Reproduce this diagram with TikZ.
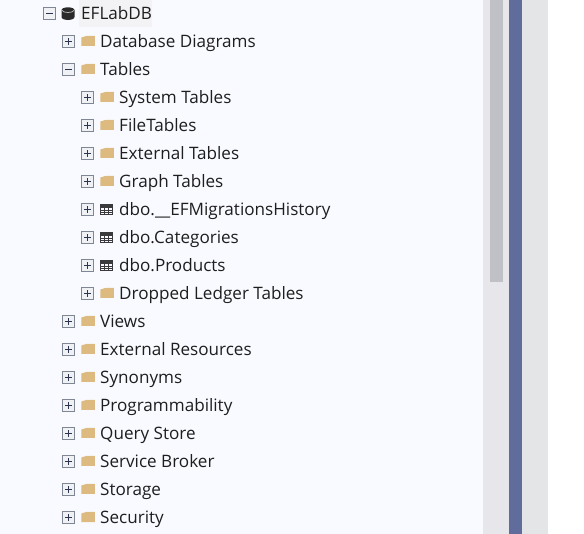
\documentclass[tikz,border=0pt]{standalone}
\usepackage{fontspec}
\setmainfont{Open Sans}
\definecolor{panelbg}{HTML}{F9FAFF}
\definecolor{trackbg}{HTML}{E6E6EB}
\definecolor{thumb}{HTML}{C0C1C6}
\definecolor{barblue}{HTML}{5F6C9C}
\definecolor{sidebg}{HTML}{E3E5E6}
\definecolor{folder}{HTML}{DDBB80}
\definecolor{boxline}{HTML}{7F8794}
\definecolor{boxfill}{HTML}{F0F1F5}
\definecolor{glyph}{HTML}{2B3550}
\definecolor{selbg}{HTML}{F3F3F5}
\definecolor{ink}{HTML}{1E1E1E}
\definecolor{dark}{HTML}{3A3A3C}
\tikzset{
  x=1pt,y=-1pt,
  label text/.style={anchor=base west,inner sep=0pt,text=ink,font=\fontsize{17.1}{20}\selectfont},
  plusbox/.pic={
    \draw[boxline,fill=boxfill,line width=1pt] (-6,-5.3) rectangle (6,6.7);
    \draw[glyph,line width=1pt] (-3.5,0.7) -- (3.5,0.7) (0,-2.8) -- (0,4.2);
  },
  minusbox/.pic={
    \draw[boxline,fill=boxfill,line width=1pt] (-6,-5.3) rectangle (6,6.7);
    \draw[glyph,line width=1pt] (-3.5,0.7) -- (3.5,0.7);
  },
  foldericon/.pic={
    \fill[folder] (0.3,-3.5) -- (6,-5.2) -- (13.8,-5.2) -- (13.8,5) -- (0.3,5) -- cycle;
  },
  tableicon/.pic={
    \draw[dark,line width=1pt] (0.5,-4) rectangle (12.5,6);
    \fill[dark] (0.5,-4) rectangle (12.5,-1);
    \draw[dark,line width=1pt] (0.5,1.3) -- (12.5,1.3) (0.5,3.7) -- (12.5,3.7) (4.5,-1) -- (4.5,6) (8.5,-1) -- (8.5,6);
  },
  dbicon/.pic={
    \fill[dark!70!black] (0,-2.8) .. controls (0,-6.6) and (13,-6.6) .. (13,-2.8) -- (13,4) .. controls (13,7.9) and (0,7.9) .. (0,4) -- cycle;
    \draw[white!75!black,line width=0.7pt] (0.6,-2.6) .. controls (1.5,0.2) and (11.5,0.2) .. (12.4,-2.6);
  }
}
% #1 name, #2 expander pic, #3 box x, #4 icon pic, #5 icon x, #6 text x, #7 y, #8 text
\newcommand{\treerow}[8]{%
  \pic at (#3,#7) {#2};
  \pic at (#5,#7) {#4};
  \node[label text] (#1) at (#6,#7+6.2) {#8};
}
\begin{document}
\begin{tikzpicture}
\useasboundingbox (0,0) rectangle (584,534);
\fill[white] (0,0) rectangle (584,534);
\fill[panelbg] (0,0) rectangle (483,534);
\fill[trackbg] (483,0) rectangle (509,534);
\fill[thumb] (490,0) rectangle (503,282);
\fill[barblue] (509,0) rectangle (522,534);
\fill[sidebg] (522,0) rectangle (548,534);
\fill[selbg] (79,0) rectangle (152,27);
\treerow{db}{minusbox}{49.5}{dbicon}{61.5}{81}{13}{EFLabDB}
\treerow{diagrams}{plusbox}{68.7}{foldericon}{81}{100}{41}{Database Diagrams}
\treerow{tables}{minusbox}{68.7}{foldericon}{81}{100}{69}{Tables}
\treerow{system}{plusbox}{87.5}{foldericon}{100}{119}{97}{System Tables}
\treerow{file}{plusbox}{87.5}{foldericon}{100}{119}{125}{FileTables}
\treerow{external}{plusbox}{87.5}{foldericon}{100}{119}{153}{External Tables}
\treerow{graph}{plusbox}{87.5}{foldericon}{100}{119}{181}{Graph Tables}
\treerow{history}{plusbox}{87.5}{tableicon}{100}{119}{209}{dbo.\_\_EFMigrationsHistory}
\treerow{categories}{plusbox}{87.5}{tableicon}{100}{119}{237}{dbo.Categories}
\treerow{products}{plusbox}{87.5}{tableicon}{100}{119}{265}{dbo.Products}
\treerow{dropped}{plusbox}{87.5}{foldericon}{100}{119}{293}{Dropped Ledger Tables}
\treerow{views}{plusbox}{68.7}{foldericon}{81}{100}{321}{Views}
\treerow{resources}{plusbox}{68.7}{foldericon}{81}{100}{349}{External Resources}
\treerow{synonyms}{plusbox}{68.7}{foldericon}{81}{100}{377}{Synonyms}
\treerow{program}{plusbox}{68.7}{foldericon}{81}{100}{405}{Programmability}
\treerow{query}{plusbox}{68.7}{foldericon}{81}{100}{433}{Query Store}
\treerow{broker}{plusbox}{68.7}{foldericon}{81}{100}{461}{Service Broker}
\treerow{storage}{plusbox}{68.7}{foldericon}{81}{100}{489}{Storage}
\treerow{security}{plusbox}{68.7}{foldericon}{81}{100}{517}{Security}
\end{tikzpicture}
\end{document}
